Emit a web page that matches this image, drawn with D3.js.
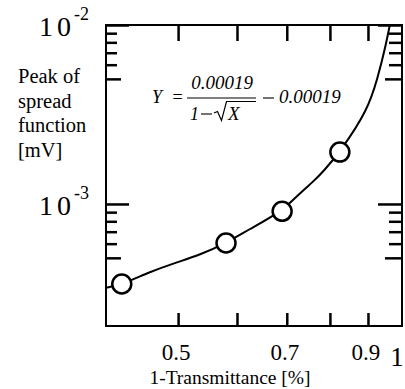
<!DOCTYPE html>
<html>
<head>
<meta charset="utf-8">
<script src="https://cdn.jsdelivr.net/npm/d3@7"></script>
<style>
body { margin: 0; background: #fff; }
svg { display: block; }
.tick line { stroke: #000; stroke-width: 2.5; }
</style>
</head>
<body>
<svg id="chart" width="405" height="389"></svg>
<script>
// axis ranges and ticks
var xDomain = [0.4, 1.0],
	yDomain = [2.08e-4, 1e-2];

var xTicks = [0.5, 0.6, 0.7, 0.8, 0.9],
	xLabelValues = [0.5, 0.7, 0.9, 1],
	xLabelText = ["0.5", "0.7", "0.9", "1"];

var yMajor = [1e-2, 1e-3],
	yHalf = [5e-3, 5e-4],
	yMinor = [9e-3, 8e-3, 7e-3, 6e-3, 9e-4, 8e-4, 7e-4, 6e-4],
	yLabelValues = [1e-2, 1e-3],
	yLabelExp = ["-2", "-3"];

// measured points (circles)
var measX = [0.42, 0.58, 0.69, 0.825],
	measY = [3.57e-4, 6.05e-4, 9.1e-4, 1.95e-3];

// fitted curve
var fitX = [0.40, 0.42, 0.458, 0.495, 0.535, 0.58, 0.621, 0.69, 0.729, 0.759, 0.783, 0.825, 0.900, 0.928, 0.948, 0.963],
	fitY = [3.40e-4, 3.55e-4, 4.17e-4, 4.68e-4, 5.19e-4, 6.05e-4, 7.16e-4, 9.1e-4, 1.152e-3, 1.327e-3, 1.51e-3, 1.95e-3, 3.35e-3, 5.12e-3, 7.25e-3, 1.0e-2];

var yTitle = ["Peak of", "spread", "function", "[mV]"],
	xTitle = "1-Transmittance [%]";

var plotLeft = 106, plotRight = 402, plotTop = 25, plotBottom = 326;
var serif = "'Liberation Serif'";

var svg = d3.select("#chart");

var x = d3.scaleLog().domain(xDomain).range([plotLeft, plotRight]);
var y = d3.scaleLog().domain(yDomain).range([plotBottom, plotTop]);

function addAxis(axis, tx, ty){
	var g = svg.append("g")
		.attr("transform", "translate(" + tx + "," + ty + ")")
		.call(axis.tickFormat(""));
	g.select(".domain").remove();
	return g;
}

// x ticks, bottom and top, pointing inward
addAxis(d3.axisBottom(x).tickValues(xTicks).tickSize(-13), 0, plotBottom);
addAxis(d3.axisTop(x).tickValues(xTicks).tickSize(-16), 0, plotTop);

// y ticks, left and right
addAxis(d3.axisLeft(y).tickValues(yMinor).tickSize(-11), plotLeft, 0);
addAxis(d3.axisLeft(y).tickValues(yHalf).tickSize(-15), plotLeft, 0);
addAxis(d3.axisLeft(y).tickValues(yMajor).tickSize(-23), plotLeft, 0);
addAxis(d3.axisRight(y).tickValues(yMinor).tickSize(-13), plotRight, 0);
addAxis(d3.axisRight(y).tickValues(yHalf).tickSize(-17), plotRight, 0);
addAxis(d3.axisRight(y).tickValues(yMajor).tickSize(-24), plotRight, 0);

// frame
svg.append("rect")
	.attr("x", plotLeft).attr("y", plotTop)
	.attr("width", plotRight - plotLeft).attr("height", plotBottom - plotTop)
	.attr("fill", "none").attr("stroke", "#000").attr("stroke-width", 2);

// fitted curve
var line = d3.line()
	.x(function(d){ return x(d[0]); })
	.y(function(d){ return y(d[1]); })
	.curve(d3.curveBasis);

svg.append("path")
	.datum(d3.zip(fitX, fitY))
	.attr("d", line)
	.attr("fill", "none")
	.attr("stroke", "#000")
	.attr("stroke-width", 2);

// measured circles
svg.selectAll(".meas").data(d3.zip(measX, measY)).enter()
	.append("circle")
	.attr("class", "meas")
	.attr("cx", function(d){ return x(d[0]); })
	.attr("cy", function(d){ return y(d[1]); })
	.attr("r", 9.5)
	.attr("fill", "#fff")
	.attr("stroke", "#000")
	.attr("stroke-width", 2.5);

// x tick labels
svg.selectAll(".xlab").data(xLabelValues).enter()
	.append("text")
	.attr("class", "xlab")
	.style("font-family", serif)
	.attr("x", function(d){ return x(d) - (d === 1 ? 5 : 2); })
	.attr("y", function(d){ return d === 1 ? 366 : 360; })
	.attr("text-anchor", "middle")
	.attr("font-size", function(d){ return d === 1 ? 27 : 23; })
	.text(function(d, i){ return xLabelText[i]; });

// y tick labels (10^n)
svg.selectAll(".ylab").data(yLabelValues).enter()
	.append("text")
	.attr("class", "ylab")
	.style("font-family", serif)
	.attr("x", 39)
	.attr("y", function(d){ return y(d) + 11; })
	.each(function(d, i){
		var t = d3.select(this);
		t.append("tspan").attr("font-size", 28).text("1");
		t.append("tspan").attr("font-size", 28).attr("dx", 4).text("0");
		t.append("tspan").attr("font-size", 18).attr("dx", 3).attr("dy", -16).text(yLabelExp[i]);
	});

// axis titles
svg.append("text")
	.style("font-family", serif)
	.attr("font-size", 20.5)
	.selectAll("tspan").data(yTitle).enter()
	.append("tspan")
	.attr("x", 18)
	.attr("y", function(d, i){ return 83 + i * 24.5; })
	.text(function(d){ return d; });

svg.append("text")
	.style("font-family", serif)
	.attr("x", 230).attr("y", 384)
	.attr("text-anchor", "middle")
	.attr("font-size", 19.5)
	.text(xTitle);

// formula
var f = svg.append("g")
	.attr("font-style", "italic")
	.attr("font-size", 18);

function ftext(tx, ty, s){
	return f.append("text").style("font-family", serif).attr("x", tx).attr("y", ty).text(s);
}

ftext(152, 103, "Y");
ftext(177.5, 103, "=").attr("font-style", "normal").attr("text-anchor", "middle");
ftext(222, 89, "0.00019").attr("text-anchor", "middle").attr("font-size", 19);
f.append("line").attr("x1", 187).attr("x2", 256).attr("y1", 98).attr("y2", 98)
	.attr("stroke", "#000").attr("stroke-width", 1.2);
ftext(190, 120, "1");
f.append("line").attr("x1", 201).attr("x2", 212).attr("y1", 114).attr("y2", 114)
	.attr("stroke", "#000").attr("stroke-width", 1.1);
f.append("path").attr("d", "M214,113 L217.5,111.5 L221.5,120.5 L226.5,101.5 L256,101.5")
	.attr("fill", "none").attr("stroke", "#000").attr("stroke-width", 1.2);
ftext(228, 120, "X").attr("font-size", 19);
f.append("line").attr("x1", 263).attr("x2", 274).attr("y1", 98).attr("y2", 98)
	.attr("stroke", "#000").attr("stroke-width", 1.1);
ftext(279, 103, "0.00019").attr("font-size", 19);
</script>
</body>
</html>
